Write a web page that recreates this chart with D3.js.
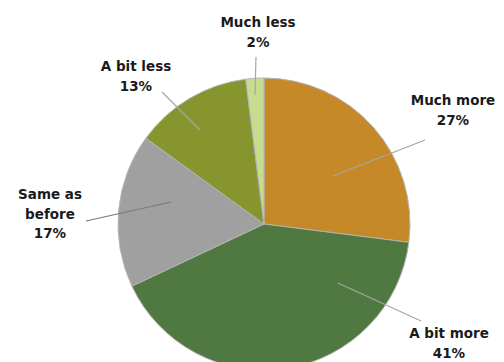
<!DOCTYPE html>
<html><head><meta charset="utf-8">
<script src="https://cdn.jsdelivr.net/npm/d3@7"></script>
<style>body{margin:0;background:#fff}svg{display:block}</style>
</head><body>
<svg id="c" width="504" height="362"></svg>
<script>
const categories = ["Much more", "A bit more", "Same as before", "A bit less", "Much less"];
const values = [27, 41, 17, 13, 2];
const colors = ["#C58A27", "#507841", "#A0A0A0", "#87952F", "#C6DC8F"];
// label layout: text lines, anchor center x, first baseline y, leader from (x1,y1) to (x2,y2)
const labelLayout = [
  {lines:["Much more","27%"], x:453, y:105, l:[425,140,333,176]},
  {lines:["A bit more","41%"], x:449, y:338, l:[421,321,338,283]},
  {lines:["Same as","before","17%"], x:50, y:199, l:[86,221,171,202]},
  {lines:["A bit less","13%"], x:136, y:71, l:[162,92,200,130]},
  {lines:["Much less","2%"], x:258, y:27, l:[256,57,255,95]}
];
const cx = 264, cy = 224, r = 146;
const svg = d3.select("#c");
const pie = d3.pie().sort(null).value(d => d)(values);
const arc = d3.arc().innerRadius(0).outerRadius(r);
const g = svg.append("g").attr("transform", `translate(${cx},${cy})`);
g.selectAll("path").data(pie).enter().append("path")
  .attr("d", arc).attr("fill", (d,i) => colors[i])
  .attr("stroke", "#B4B4B4").attr("stroke-width", 1);
labelLayout.forEach((L, i) => {
  const lc = i === 2 ? "#7a7a7a" : "#a6a6a6";
  svg.append("line").attr("x1", L.l[0]).attr("y1", L.l[1]).attr("x2", L.l[2]).attr("y2", L.l[3])
    .attr("stroke", lc).attr("stroke-width", 1.2)
    .attr("stroke-dasharray", i === 2 ? null : null);
  const t = svg.append("text").attr("text-anchor", "middle")
    .attr("font-family", "DejaVu Sans, sans-serif").attr("font-weight", "bold")
    .attr("font-size", "13.5px").attr("fill", "#1a1a1a");
  L.lines.forEach((s, j) => {
    t.append("tspan").attr("x", L.x).attr("y", L.y + j * 19.5).text(s);
  });
});
</script>
</body></html>
